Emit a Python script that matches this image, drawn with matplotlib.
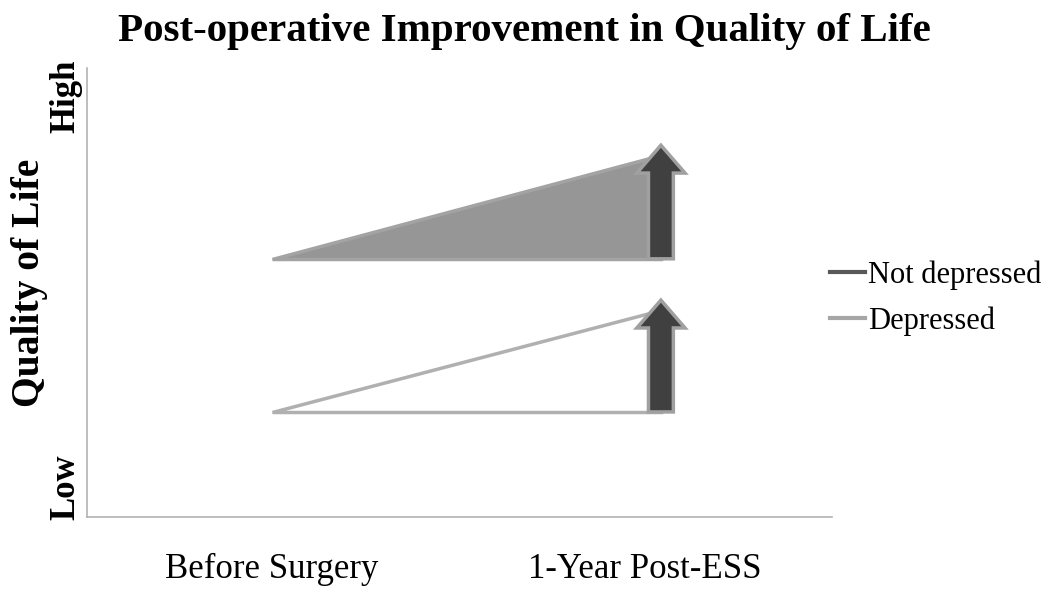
import matplotlib.pyplot as plt
from matplotlib.lines import Line2D
from matplotlib.patches import FancyArrow
from matplotlib.transforms import ScaledTranslation

# categories on the x axis
stages = ["Before Surgery", "1-Year Post-ESS"]
# quality of life on a 0 (low) .. 10 (high) scale
not_depressed = [5.75, 8.06]
depressed = [2.34, 4.61]
# where the improvement arrows end
arrow_tip = [8.28, 4.83]
series_names = ["Not depressed", "Depressed"]

plt.rcParams["font.family"] = ["Liberation Serif", "DejaVu Serif"]

DARK = "#595959"
LIGHT = "#a6a6a6"
ARROW = "#404040"

fig = plt.figure(figsize=(10.5, 5.98), dpi=100)
ax = fig.add_axes([87 / 1050, 1 - 517 / 598, (832 - 87) / 1050, (517 - 68) / 598])

xs = [1, 2]

# not depressed: filled triangle
ax.fill([xs[0], xs[1], xs[1]], [not_depressed[0], not_depressed[0], not_depressed[1]],
        facecolor="#969696", edgecolor="#a3a3a3", linewidth=2.5, zorder=2)
# depressed: empty triangle
ax.fill([xs[0], xs[1], xs[1]], [depressed[0], depressed[0], depressed[1]],
        facecolor="white", edgecolor="#b0b0b0", linewidth=2.5, zorder=2)

for base, tip in [(not_depressed[0], arrow_tip[0]), (depressed[0], arrow_tip[1])]:
    arr = FancyArrow(xs[1], base, 0, tip - base, width=0.064, head_width=0.124,
                     head_length=0.62, length_includes_head=True,
                     facecolor=ARROW, edgecolor="#a0a0a0", linewidth=2.5, zorder=3)
    ax.add_patch(arr)

ax.set_xlim(0.524, 2.44)
ax.set_ylim(0, 10)
ax.set_xticks(xs)
ax.set_xticklabels(stages, fontsize=25)
ax.tick_params(axis="x", length=0, pad=26)
# second category label sits a little left of its tick in the original
lab = ax.get_xticklabels()[1]
lab.set_transform(lab.get_transform() + ScaledTranslation(-0.16, 0, fig.dpi_scale_trans))
ax.set_yticks([])
for s in ["top", "right"]:
    ax.spines[s].set_visible(False)
for s in ["left", "bottom"]:
    ax.spines[s].set_color("#b3b3b3")
    ax.spines[s].set_linewidth(1.2)

fig.text(524 / 1050, 1 - 32 / 598, "Post-operative Improvement in Quality of Life",
         ha="center", va="center", fontsize=29.5, fontweight="bold")
fig.text(30 / 1050, 1 - 283 / 598, "Quality of Life", rotation=90, ha="center",
         va="center", fontsize=28.5, fontweight="bold")
fig.text(66 / 1050, 1 - 96 / 598, "High", rotation=90, ha="center", va="center",
         fontsize=25, fontweight="bold")
fig.text(66 / 1050, 1 - 487 / 598, "Low", rotation=90, ha="center", va="center",
         fontsize=25, fontweight="bold")

handles = [Line2D([], [], color=DARK, linewidth=3),
           Line2D([], [], color=LIGHT, linewidth=3)]
fig.legend(handles, series_names, loc="center left",
           bbox_to_anchor=(802 / 1050, 1 - 298 / 598), frameon=False,
           fontsize=22, handlelength=1.15, handletextpad=0.1, labelspacing=0.55)

fig.savefig("out.png", dpi=100)
